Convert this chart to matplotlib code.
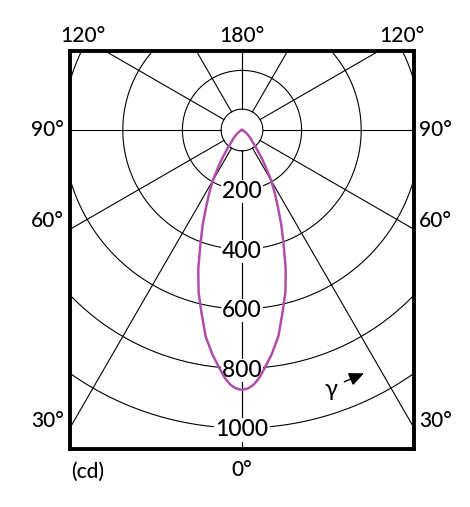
import numpy as np
import matplotlib
matplotlib.use("Agg")
import matplotlib.pyplot as plt

plt.rcParams['font.family'] = ['Lato', 'DejaVu Sans']

# luminous intensity (cd) against gamma angle (deg), curve is symmetric
gamma_deg = [0, 1.25, 2.5, 3.75, 5, 6.25, 7.5, 10, 12.5, 15, 17.5, 20, 22.5,
             25, 27.5, 30, 32.5, 35, 37.5, 40, 45, 50, 55, 60, 70, 80, 90]
intensity_cd = [872, 868, 857, 838, 812, 785, 760, 703, 628, 563, 488, 408, 345,
                285, 238, 196, 150, 115, 84, 62, 42, 28, 17, 9, 3, 1, 0]

ring_values = [200, 400, 600, 800, 1000]
spoke_angles = [0, 30, 60, 90, 120, 150, 180]
inner_radius = 70

W, H = 470, 507
fig = plt.figure(figsize=(W / 100, H / 100), dpi=100)
ax = fig.add_axes([70 / W, 58 / H, 344 / W, 398 / H])

# polar -> cartesian, 0 deg pointing down
def to_xy(r, a_deg):
    a = np.radians(a_deg)
    return r * np.sin(a), -r * np.cos(a)

grid_kw = dict(color='black', lw=0.8, zorder=1)

t = np.linspace(0, 360, 721)
for r in [inner_radius] + ring_values:
    x, y = to_xy(r, t)
    ax.plot(x, y, **grid_kw)

for a in spoke_angles:
    for s in (1, -1):
        x, y = to_xy(np.array([inner_radius, 3000]), s * a)
        ax.plot(x, y, **grid_kw)

for v in ring_values:
    x, y = to_xy(v, 0)
    ax.text(x, y, str(v), ha='center', va='center_baseline', fontsize=16.5,
            zorder=2, fontweight='medium',
            bbox=dict(boxstyle='square,pad=0.05', fc='white', ec='none'))

g = np.array(gamma_deg, dtype=float)
I = np.array(intensity_cd, dtype=float)
g_all = np.concatenate([-g[::-1], g[1:]])
I_all = np.concatenate([I[::-1], I[1:]])
cx, cy = to_xy(I_all, g_all)
ax.plot(cx, cy, color='#b04fa9', lw=1.8, zorder=3, solid_joinstyle='round')

# scale: 0.298 px per cd
ax.set_xlim(-172 / 0.298, 172 / 0.298)
ax.set_ylim(-319 / 0.298, 79 / 0.298)
ax.set_xticks([])
ax.set_yticks([])
for sp in ax.spines.values():
    sp.set_linewidth(2.8)

ax.text(0.759, 0.15, 'γ', transform=ax.transAxes, ha='center', va='center',
        fontsize=17)
ax.annotate('', xy=(0.862, 0.193), xytext=(0.79, 0.166), xycoords='axes fraction',
            arrowprops=dict(arrowstyle='-|>,head_length=0.9,head_width=0.4',
                            color='black', lw=1.0))

# angle labels around the frame
fs = 15
def ftext(x, y, s, ha='center'):
    fig.text(x / W, 1 - y / H, s, ha=ha, va='center', fontsize=fs,
             fontweight='medium')

ftext(83, 36, '120°')
ftext(242, 36, '180°')
ftext(402, 36, '120°')
for y, s in [(130, '90°'), (221, '60°'), (421, '30°')]:
    ftext(64, y, s, ha='right')
    ftext(419, y, s, ha='left')
ftext(242, 470, '0°')
ftext(88, 472, '(cd)')

fig.savefig('out.png', dpi=100)
